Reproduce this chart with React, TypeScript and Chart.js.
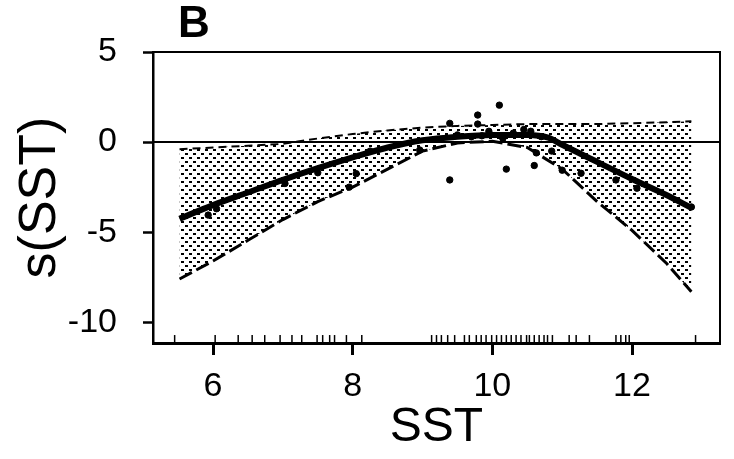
import React, { useEffect, useRef } from "react";
import { Chart, registerables } from "chart.js";

Chart.register(...registerables);

// ---- data ----
const PANEL_LABEL = "B";
const X_TITLE = "SST";
const Y_TITLE = "s(SST)";

const X_TICKS = [6, 8, 10, 12];
const Y_TICKS = [-10, -5, 0, 5];
const X_MIN = 5.14;
const X_MAX = 13.26;
const Y_MIN = -11.15;
const Y_MAX = 5;

// fitted smooth
const SMOOTH_X = [5.52, 6, 6.5, 7, 7.5, 8, 8.5, 9, 9.5, 10, 10.5, 10.8, 11, 11.5, 12, 12.5, 12.85];
const SMOOTH_Y = [-4.25, -3.5, -2.8, -2.1, -1.45, -0.85, -0.3, 0.1, 0.3, 0.4, 0.4, 0.25, -0.15, -1.1, -2.05, -2.95, -3.65];

// confidence band
const BAND_X = [5.52, 6, 6.5, 7, 7.5, 8, 8.5, 9, 9.5, 10, 10.5, 11, 11.5, 12, 12.5, 12.85];
const BAND_UPPER = [-0.4, -0.3, -0.2, -0.1, 0.2, 0.45, 0.65, 0.8, 0.9, 0.95, 1.0, 1.0, 1.0, 1.05, 1.1, 1.15];
const BAND_LOWER = [-7.6, -6.6, -5.45, -4.3, -3.3, -2.5, -1.5, -0.5, -0.05, 0.05, -0.3, -1.5, -3.3, -4.9, -6.75, -8.3];

// partial residuals
const POINT_X = [5.93, 6.05, 7.03, 7.5, 7.95, 8.05, 8.25, 8.96, 9.39, 9.39, 9.5, 9.7, 9.79, 9.79, 9.85, 9.95, 10.1, 10.15, 10.2, 10.3, 10.45, 10.55, 10.6, 10.63, 10.7, 10.85, 11.0, 11.27, 11.77, 12.07, 12.85];
const POINT_Y = [-4.05, -3.7, -2.3, -1.7, -2.5, -1.75, -0.5, -0.44, -2.1, 1.04, 0.4, 0.3, 1.5, 1.0, 0.35, 0.6, 2.05, 0.2, -1.5, 0.5, 0.7, 0.6, -1.3, -0.6, 0.3, -0.5, -1.56, -1.73, -2.1, -2.56, -3.6];

// rug of observed SST values
const RUG_X = [5.45, 6.03, 6.36, 6.56, 6.74, 6.96, 7.13, 7.27, 7.49, 7.57, 7.67, 7.74, 7.91, 8.13, 9.13, 9.2, 9.27, 9.36, 9.46, 9.6, 9.67, 9.77, 9.84, 9.91, 9.99, 10.06, 10.13, 10.2, 10.27, 10.34, 10.41, 10.49, 10.53, 10.6, 10.67, 10.74, 10.79, 10.86, 11.1, 11.2, 11.39, 11.77, 11.84, 11.91, 11.96, 12.91];
const RUG_LEVEL = -10.93;

const FONT = "'Liberation Sans', Arial, sans-serif";

function makeDots(): CanvasPattern | string {
  const c = document.createElement("canvas");
  c.width = 8;
  c.height = 8;
  const g = c.getContext("2d");
  if (!g) return "#999";
  g.fillStyle = "#000";
  g.fillRect(1, 1, 3, 2);
  g.fillRect(5, 5, 3, 2);
  return g.createPattern(c, "repeat") || "#999";
}

const panelLabelPlugin = {
  id: "panelLabel",
  afterDraw(chart: any) {
    const { ctx, chartArea } = chart;
    ctx.save();
    ctx.fillStyle = "#000";
    ctx.font = `bold 44px ${FONT}`;
    ctx.textAlign = "left";
    ctx.textBaseline = "alphabetic";
    ctx.fillText(PANEL_LABEL, chartArea.left + 25, chartArea.top - 15);
    ctx.restore();
  },
};

export default function App() {
  const ref = useRef<HTMLCanvasElement | null>(null);

  useEffect(() => {
    if (!ref.current) return;
    const dots = makeDots();
    const pts = (xs: number[], ys: number[]) => xs.map((x, i) => ({ x, y: ys[i] }));

    const chart = new Chart(ref.current, {
      type: "scatter",
      data: {
        datasets: [
          {
            type: "line",
            label: "upper",
            data: pts(BAND_X, BAND_UPPER) as any,
            borderColor: "#000",
            borderWidth: 2,
            borderDash: [8, 5],
            pointRadius: 0,
            backgroundColor: dots as any,
            fill: "+1",
            tension: 0,
            order: 5,
          },
          {
            type: "line",
            label: "lower",
            data: pts(BAND_X, BAND_LOWER) as any,
            borderColor: "#000",
            borderWidth: 3,
            borderDash: [14, 5],
            pointRadius: 0,
            fill: false,
            tension: 0,
            order: 4,
          },
          {
            type: "line",
            label: "zero",
            data: [
              { x: X_MIN, y: 0 },
              { x: X_MAX, y: 0 },
            ] as any,
            borderColor: "#000",
            borderWidth: 2,
            pointRadius: 0,
            fill: false,
            order: 3,
          },
          {
            type: "line",
            label: "smooth",
            data: pts(SMOOTH_X, SMOOTH_Y) as any,
            borderColor: "#000",
            borderWidth: 6,
            pointRadius: 0,
            fill: false,
            tension: 0.3,
            cubicInterpolationMode: "monotone",
            order: 1,
          },
          {
            label: "residuals",
            data: pts(POINT_X, POINT_Y) as any,
            backgroundColor: "#000",
            borderColor: "#000",
            pointRadius: 3.2,
            order: 0,
          },
          {
            label: "rug",
            data: RUG_X.map((x) => ({ x, y: RUG_LEVEL })) as any,
            pointStyle: "line",
            rotation: 90,
            pointRadius: 4,
            borderColor: "#000",
            borderWidth: 1.5,
            order: 2,
          },
        ],
      },
      options: {
        animation: false,
        responsive: false,
        maintainAspectRatio: false,
        layout: { padding: 0 },
        plugins: {
          legend: { display: false },
          tooltip: { enabled: false },
        },
        scales: {
          x: {
            type: "linear",
            position: "bottom",
            min: X_MIN,
            max: X_MAX,
            afterBuildTicks: (s: any) => {
              s.ticks = X_TICKS.map((v) => ({ value: v }));
            },
            afterFit: (s: any) => {
              s.height = 116;
            },
            grid: { drawOnChartArea: false, drawTicks: true, tickLength: 12, tickWidth: 3, tickColor: "#000" },
            border: { display: true, color: "#000", width: 3 },
            ticks: { color: "#000", font: { family: FONT, size: 34 }, padding: 11, maxRotation: 0, autoSkip: false },
            title: { display: true, text: X_TITLE, color: "#000", font: { family: FONT, size: 48 }, padding: { top: 0, bottom: 2 } },
          },
          x2: {
            type: "linear",
            position: "top",
            min: X_MIN,
            max: X_MAX,
            afterFit: (s: any) => {
              s.height = 52;
            },
            grid: { drawOnChartArea: false, drawTicks: false },
            border: { display: true, color: "#000", width: 2 },
            ticks: { display: false },
          },
          y: {
            type: "linear",
            position: "left",
            min: Y_MIN,
            max: Y_MAX,
            afterBuildTicks: (s: any) => {
              s.ticks = Y_TICKS.map((v) => ({ value: v }));
            },
            afterFit: (s: any) => {
              s.width = 153;
            },
            grid: { drawOnChartArea: false, drawTicks: true, tickLength: 10, tickWidth: 2.5, tickColor: "#000" },
            border: { display: true, color: "#000", width: 2.5 },
            ticks: { color: "#000", font: { family: FONT, size: 34 }, padding: 26 },
            title: { display: true, text: Y_TITLE, color: "#000", font: { family: FONT, size: 52 }, padding: { top: 9, bottom: 0 } },
          },
          y2: {
            type: "linear",
            position: "right",
            min: Y_MIN,
            max: Y_MAX,
            afterFit: (s: any) => {
              s.width = 14;
            },
            grid: { drawOnChartArea: false, drawTicks: false },
            border: { display: true, color: "#000", width: 2 },
            ticks: { display: false },
          },
        },
      } as any,
      plugins: [panelLabelPlugin],
    });

    return () => chart.destroy();
  }, []);

  return (
    <div style={{ position: "absolute", left: 0, top: 0, width: 734, height: 459, background: "#fff" }}>
      <canvas ref={ref} width={734} height={459} style={{ display: "block" }} />
    </div>
  );
}
